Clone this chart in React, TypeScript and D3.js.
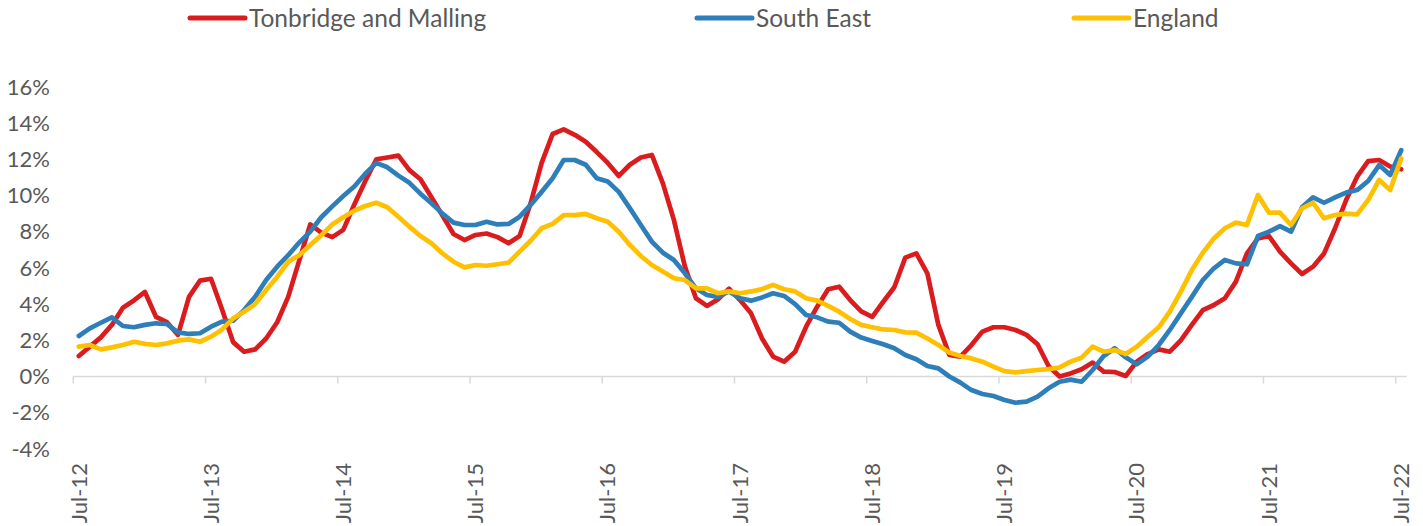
import React, { useMemo } from "react";
import * as d3 from "d3";

const WIDTH = 1423;
const HEIGHT = 526;
const FONT = "Lato, 'Open Sans', sans-serif";
const TEXT_COLOR = "#595959";

// monthly, Jul-12 .. Jul-22 (121 points), annual % change
const tonbridge = [
  1.13, 1.65, 2.16, 2.85, 3.8, 4.2, 4.67, 3.3, 3.0, 2.3,
  4.4, 5.3, 5.4, 3.7, 1.9, 1.37, 1.5, 2.1, 3.0, 4.4,
  6.4, 8.4, 7.95, 7.7, 8.1, 9.5, 10.8, 12.0, 12.1, 12.2,
  11.4, 10.9, 9.9, 8.9, 7.87, 7.54, 7.82, 7.9, 7.7, 7.36,
  7.76, 9.57, 11.8, 13.4, 13.65, 13.35, 12.97, 12.4, 11.8, 11.08,
  11.7, 12.1, 12.24, 10.67, 8.65, 6.07, 4.32, 3.9, 4.26, 4.85,
  4.22, 3.49, 2.1, 1.1, 0.82, 1.37, 2.75, 3.86, 4.82, 4.96,
  4.22, 3.6, 3.3, 4.13, 4.93, 6.57, 6.8, 5.7, 2.85, 1.19,
  1.1, 1.74, 2.48, 2.72, 2.72, 2.57, 2.3, 1.78, 0.58, 0.0,
  0.17, 0.4, 0.77, 0.27, 0.25, 0.03, 0.82, 1.24, 1.5, 1.37,
  2.0, 2.85, 3.67, 3.95, 4.32, 5.24, 6.8, 7.63, 7.76, 6.9,
  6.25, 5.66, 6.07, 6.8, 8.19, 9.75, 11.04, 11.9, 11.96, 11.6, 11.45,
];

const southEast = [
  2.24, 2.66, 2.97, 3.27, 2.79, 2.72, 2.85, 2.94, 2.9, 2.44,
  2.35, 2.39, 2.75, 3.03, 3.08, 3.67, 4.4, 5.33, 6.07, 6.7,
  7.4, 8.0, 8.8, 9.4, 9.97, 10.5, 11.2, 11.8, 11.56, 11.1,
  10.7, 10.1, 9.57, 9.0, 8.5, 8.37, 8.37, 8.55, 8.4, 8.43,
  8.83, 9.48, 10.2, 10.95, 11.96, 11.96, 11.7, 10.95, 10.77, 10.2,
  9.3, 8.37, 7.45, 6.84, 6.44, 5.7, 4.87, 4.5, 4.4, 4.7,
  4.32, 4.19, 4.37, 4.6, 4.45, 4.0, 3.4, 3.27, 3.03, 2.97,
  2.48, 2.15, 1.96, 1.78, 1.56, 1.19, 0.95, 0.58, 0.45, 0.0,
  -0.34, -0.75, -0.97, -1.08, -1.3, -1.45, -1.39, -1.11, -0.65, -0.29,
  -0.17, -0.29, 0.36, 1.13, 1.56, 1.06, 0.67, 1.1, 1.74, 2.57,
  3.49, 4.4, 5.33, 5.98, 6.44, 6.25, 6.2, 7.76, 8.0, 8.31,
  8.0, 9.35, 9.9, 9.6, 9.9, 10.16, 10.3, 10.8, 11.68, 11.13, 12.5,
];

const england = [
  1.65, 1.74, 1.5, 1.61, 1.74, 1.92, 1.8, 1.74, 1.83, 1.98,
  2.05, 1.92, 2.2, 2.6, 3.2, 3.58, 4.0, 4.78, 5.5, 6.34,
  6.7, 7.26, 7.8, 8.4, 8.8, 9.16, 9.42, 9.6, 9.35, 8.83,
  8.28, 7.76, 7.36, 6.8, 6.34, 6.03, 6.16, 6.12, 6.2, 6.29,
  6.9, 7.5, 8.19, 8.43, 8.92, 8.92, 8.98, 8.74, 8.55, 8.0,
  7.27, 6.66, 6.16, 5.8, 5.43, 5.33, 4.87, 4.87, 4.6, 4.7,
  4.6, 4.7, 4.83, 5.06, 4.82, 4.7, 4.32, 4.19, 3.9, 3.58,
  3.18, 2.85, 2.72, 2.6, 2.57, 2.44, 2.42, 2.1, 1.74, 1.32,
  1.13, 1.0, 0.82, 0.54, 0.3, 0.23, 0.3, 0.36, 0.41, 0.5,
  0.82, 1.04, 1.65, 1.37, 1.46, 1.24, 1.65, 2.2, 2.72, 3.58,
  4.69, 5.88, 6.84, 7.63, 8.19, 8.5, 8.37, 10.03, 9.05, 9.05,
  8.37, 9.29, 9.6, 8.74, 8.92, 9.0, 8.96, 9.75, 10.86, 10.3, 12.05,
];

const xLabels = ["Jul-12", "Jul-13", "Jul-14", "Jul-15", "Jul-16", "Jul-17", "Jul-18", "Jul-19", "Jul-20", "Jul-21", "Jul-22"];
const yTicks = [-4, -2, 0, 2, 4, 6, 8, 10, 12, 14, 16];

const SERIES = [
  { name: "Tonbridge and Malling", values: tonbridge, color: "#DA1C1F", legendX: 190 },
  { name: "South East", values: southEast, color: "#2E7EBA", legendX: 697 },
  { name: "England", values: england, color: "#FFC000", legendX: 1074 },
];

export default function App() {
  const n = tonbridge.length;

  // category axis: points sit between tick marks
  const xScale = useMemo(() => d3.scaleLinear().domain([0, n]).range([73.3, 73.3 + n * 11.02]), [n]);
  const yScale = useMemo(() => d3.scaleLinear().domain([-4, 16]).range([448.9, 86.9]), []);

  const lineGen = d3
    .line<number>()
    .x((_, i) => xScale(i + 0.5))
    .y((d) => yScale(d));

  const y0 = yScale(0);

  return (
    <svg width={WIDTH} height={HEIGHT} style={{ position: "absolute", left: 0, top: 0 }}>
      <rect width={WIDTH} height={HEIGHT} fill="#fff" />

      {/* legend */}
      {SERIES.map((s) => (
        <g key={s.name}>
          <line x1={s.legendX} x2={s.legendX + 55} y1={18} y2={18} stroke={s.color} strokeWidth={5} strokeLinecap="round" />
          <text x={s.legendX + 59} y={18} dy="0.35em" fontFamily={FONT} fontSize={24.5} fill={TEXT_COLOR}>
            {s.name}
          </text>
        </g>
      ))}

      {/* y axis labels */}
      {yTicks.map((t) => (
        <text key={t} x={50} y={yScale(t)} dy="0.35em" textAnchor="end" fontFamily={FONT} fontSize={22} fill={TEXT_COLOR}>
          {`${t}%`}
        </text>
      ))}

      {/* x axis */}
      <line x1={xScale(0)} x2={xScale(n)} y1={y0} y2={y0} stroke="#D9D9D9" strokeWidth={1.5} />
      {d3.range(0, n, 12).map((i) => (
        <line key={i} x1={xScale(i)} x2={xScale(i)} y1={y0} y2={y0 + 7} stroke="#D9D9D9" strokeWidth={1.5} />
      ))}
      {xLabels.map((lab, k) => (
        <text
          key={lab}
          transform={`translate(${xScale(k * 12 + 0.5)},463) rotate(-90)`}
          textAnchor="end"
          dy="0.35em"
          fontFamily={FONT}
          fontSize={22}
          fill={TEXT_COLOR}
        >
          {lab}
        </text>
      ))}

      {/* series */}
      {SERIES.map((s) => (
        <path
          key={s.name}
          d={lineGen(s.values) || ""}
          fill="none"
          stroke={s.color}
          strokeWidth={4.7}
          strokeLinejoin="round"
          strokeLinecap="round"
        />
      ))}
    </svg>
  );
}
